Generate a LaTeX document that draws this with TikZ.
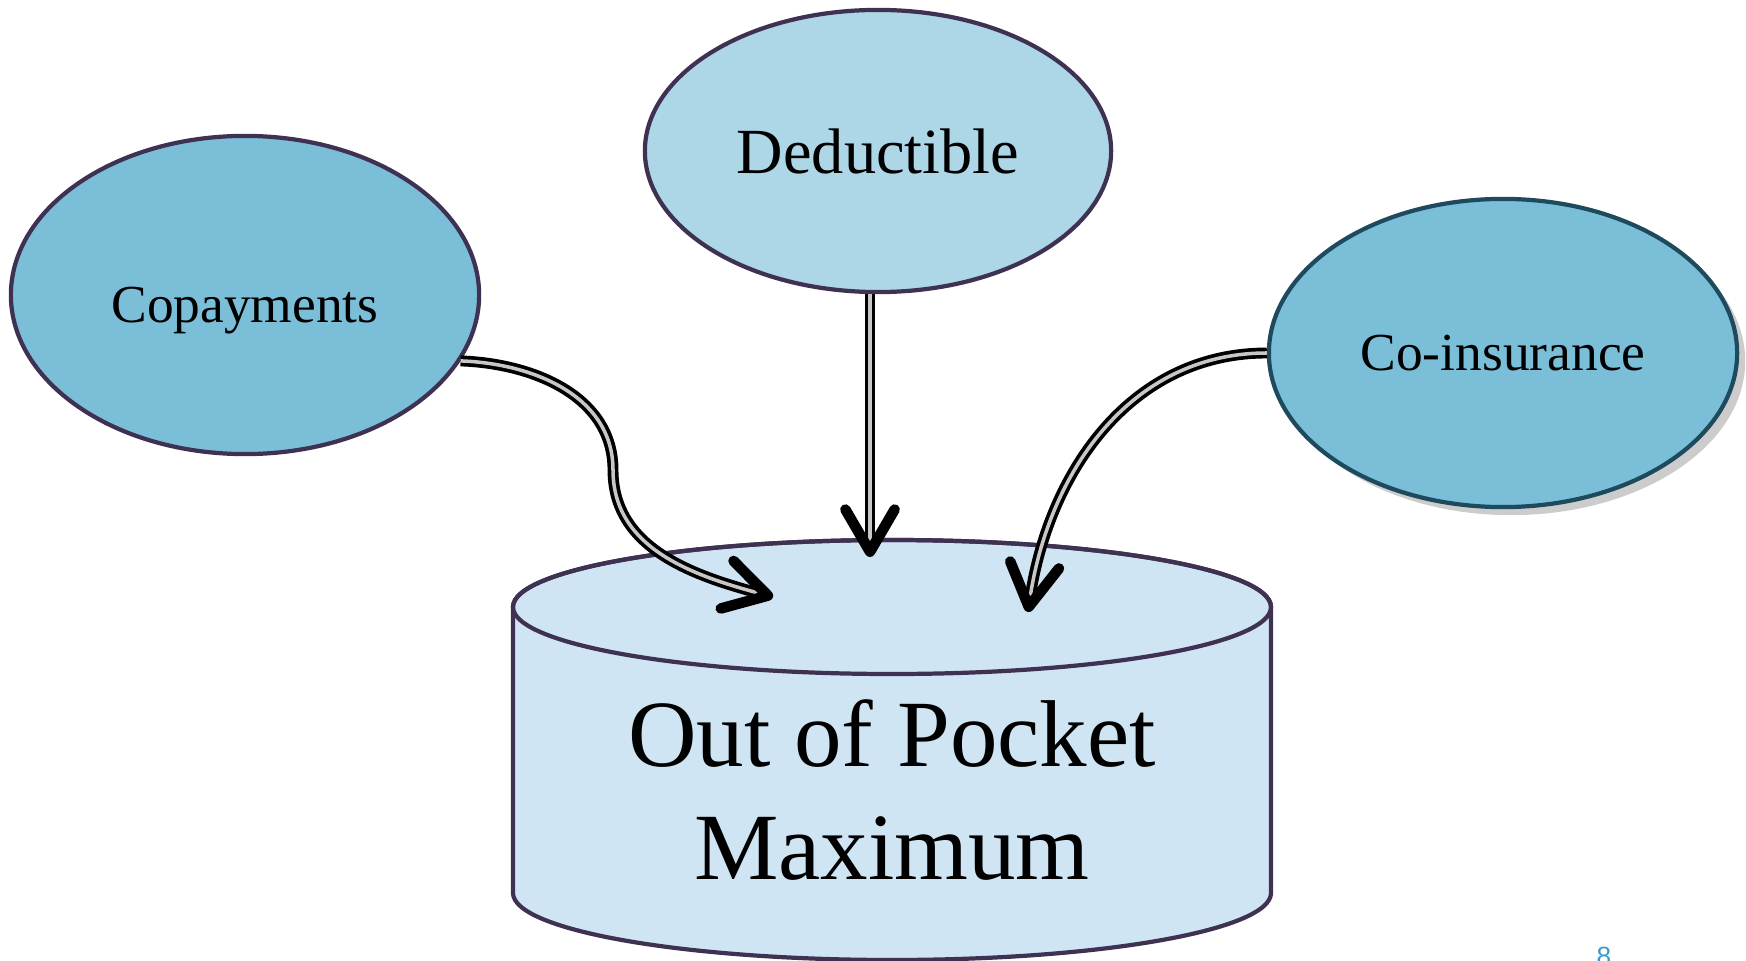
\documentclass[tikz,border=0pt]{standalone}
\usepackage{fontspec}
\setmainfont{Liberation Serif}
\newfontfamily\pagefont{Liberation Sans}
\usetikzlibrary{shapes.geometric, arrows.meta, shadows}

\definecolor{rim}{HTML}{3F3152}
\definecolor{rimdark}{HTML}{1D4A5C}
\definecolor{palefill}{HTML}{ADD6E7}
\definecolor{midfill}{HTML}{7BBED8}
\definecolor{cylfill}{HTML}{D0E5F4}
\definecolor{pagenum}{HTML}{3A9AC9}

\begin{document}
\begin{tikzpicture}[
    x=0.01cm, y=0.01cm,
    bubble/.style={ellipse, draw=rim, line width=1.2pt, inner sep=0pt},
    conn/.style={line width=1.05pt, double=black!22, double distance=1pt,
        -{Straight Barb[length=12pt, width=14pt, line width=3pt, round]}}
]
    \useasboundingbox (0,0) rectangle (1746,-961);

    % Cylinder
    \filldraw[fill=cylfill, draw=rim, line width=1.2pt]
        (513,-607) -- (513,-893)
        arc[start angle=180, end angle=360, x radius=379, y radius=67]
        -- (1271,-607)
        arc[start angle=0, end angle=180, x radius=379, y radius=67] -- cycle;
    \draw[draw=rim, line width=1.2pt] (892,-607) ellipse [x radius=379, y radius=67];
    \node[font=\fontsize{27}{32.4}\selectfont, align=center] (oop) at (892,-790)
        {Out of Pocket\\Maximum};

    % Bubbles
    \node[bubble, fill=palefill, minimum width=4.66cm, minimum height=2.82cm,
          font=\fontsize{18.3}{22}\selectfont] (ded) at (878,-151) {Deductible};
    \node[bubble, fill=midfill, minimum width=4.68cm, minimum height=3.18cm,
          text height=18.7pt, font=\fontsize{15.2}{19}\selectfont] (copay) at (245,-295) {Copayments};
    \node[bubble, fill=midfill, draw=rimdark, drop shadow={opacity=0.4},
          minimum width=4.68cm, minimum height=3.08cm,
          font=\fontsize{15.2}{19}\selectfont] (coins) at (1503,-353) {Co-insurance};

    % Arrow ends
    \coordinate (copaytip) at (773,-597);
    \coordinate (copaymid) at (613,-470);
    \coordinate (dedtip) at (870,-557);
    \coordinate (coinstip) at (1028,-612);

    % Arrows
    \draw[conn] (copay.-17) to[out=-2, in=90] (copaymid) to[out=-90, in=165] (copaytip);
    \draw[conn] (ded.south -| dedtip) -- (dedtip);
    \draw[conn] (coins.west) to[out=180, in=82] (coinstip);

    % Page number
    \node[anchor=north, inner sep=0pt, text=pagenum, font=\pagefont\fontsize{7.5}{9}\selectfont]
        (page) at (1604,-946) {8};
\end{tikzpicture}
\end{document}
